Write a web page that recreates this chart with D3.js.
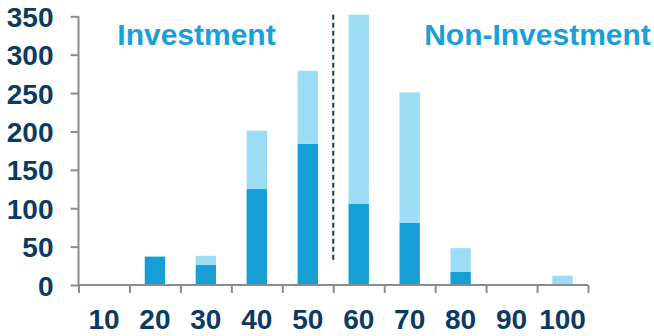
<!DOCTYPE html>
<meta charset="utf-8">
<script src="https://cdn.jsdelivr.net/npm/d3@7"></script>
<style>
    body { margin: 0; background: #fff; }
    svg text { font-family: "Liberation Sans", Arial, sans-serif; font-weight: bold; }
</style>
<svg width="654" height="336"></svg>
<script>
    // chart data
    var categories = ["10", "20", "30", "40", "50", "60", "70", "80", "90", "100"];
    var baseValues = [0, 37, 26, 125, 184, 106, 81, 17, 0, 0];     // dark part
    var extraValues = [0, 0, 12, 76, 95, 246, 170, 31, 0, 12];    // light part on top
    var yTicks = [0, 50, 100, 150, 200, 250, 300, 350];

    var svg = d3.select("svg");
    var plotLeft = 78.5, plotRight = 588, plotTop = 16.3, plotBottom = 285;

    var x = d3.scaleBand().domain(categories).range([plotLeft, plotRight]).paddingInner(0.6).paddingOuter(0.3);
    var xEdge = d3.scaleLinear().domain([0, categories.length]).range([plotLeft, plotRight]);
    var y = d3.scaleLinear().domain([0, 350]).range([plotBottom, plotTop]);

    var navy = "#0b3a62", axisGrey = "#8c8c8c";

    // bars
    var g = svg.append("g");
    g.selectAll("rect.base")
        .data(categories)
        .enter().append("rect")
        .attr("class", "base")
        .attr("x", function (d) { return x(d); })
        .attr("width", x.bandwidth())
        .attr("y", function (d, i) { return y(baseValues[i]); })
        .attr("height", function (d, i) { return y(0) - y(baseValues[i]); })
        .attr("fill", "#169fd5");

    g.selectAll("rect.extra")
        .data(categories)
        .enter().append("rect")
        .attr("class", "extra")
        .attr("x", function (d) { return x(d); })
        .attr("width", x.bandwidth())
        .attr("y", function (d, i) { return y(baseValues[i] + extraValues[i]); })
        .attr("height", function (d, i) { return y(baseValues[i]) - y(baseValues[i] + extraValues[i]); })
        .attr("fill", "#9cdcf5");

    // y axis
    var yAxis = svg.append("g")
        .attr("transform", "translate(" + plotLeft + ",0)")
        .call(d3.axisLeft(y).tickValues(yTicks).tickSize(8).tickPadding(17));
    yAxis.select(".domain").attr("stroke", axisGrey).attr("stroke-width", 2).attr("d", "M0," + plotTop + "V" + plotBottom);
    yAxis.selectAll(".tick line").attr("stroke", axisGrey).attr("stroke-width", 2);
    yAxis.selectAll(".tick text").attr("fill", navy).style("font-size", "28px").attr("dy", "0.36em");

    // x axis: ticks at band edges, labels at band centers
    var xAxis = svg.append("g")
        .attr("transform", "translate(0," + plotBottom + ")")
        .call(d3.axisBottom(xEdge).ticks(10).tickSize(8).tickFormat(""));
    xAxis.select(".domain").attr("stroke", axisGrey).attr("stroke-width", 2).attr("d", "M" + plotLeft + ",0H" + plotRight);
    xAxis.selectAll(".tick line").attr("stroke", axisGrey).attr("stroke-width", 2);

    svg.append("g").selectAll("text")
        .data(categories)
        .enter().append("text")
        .attr("x", function (d) { return x(d) + x.bandwidth() / 2; })
        .attr("y", 329)
        .attr("text-anchor", "middle")
        .attr("fill", navy)
        .style("font-size", "28px")
        .text(function (d) { return d; });

    // divider between investment / non-investment
    svg.append("line")
        .attr("x1", xEdge(5)).attr("x2", xEdge(5))
        .attr("y1", y(352)).attr("y2", y(29))
        .attr("stroke", navy)
        .attr("stroke-width", 2)
        .attr("stroke-dasharray", "5,3");

    // section titles
    svg.append("text")
        .attr("x", 196.5).attr("y", 44.5)
        .attr("text-anchor", "middle")
        .attr("fill", "#18a0d8")
        .style("font-size", "30px")
        .text("Investment");

    svg.append("text")
        .attr("x", 537.5).attr("y", 44.5)
        .attr("text-anchor", "middle")
        .attr("fill", "#18a0d8")
        .style("font-size", "30px")
        .text("Non-Investment");
</script>
